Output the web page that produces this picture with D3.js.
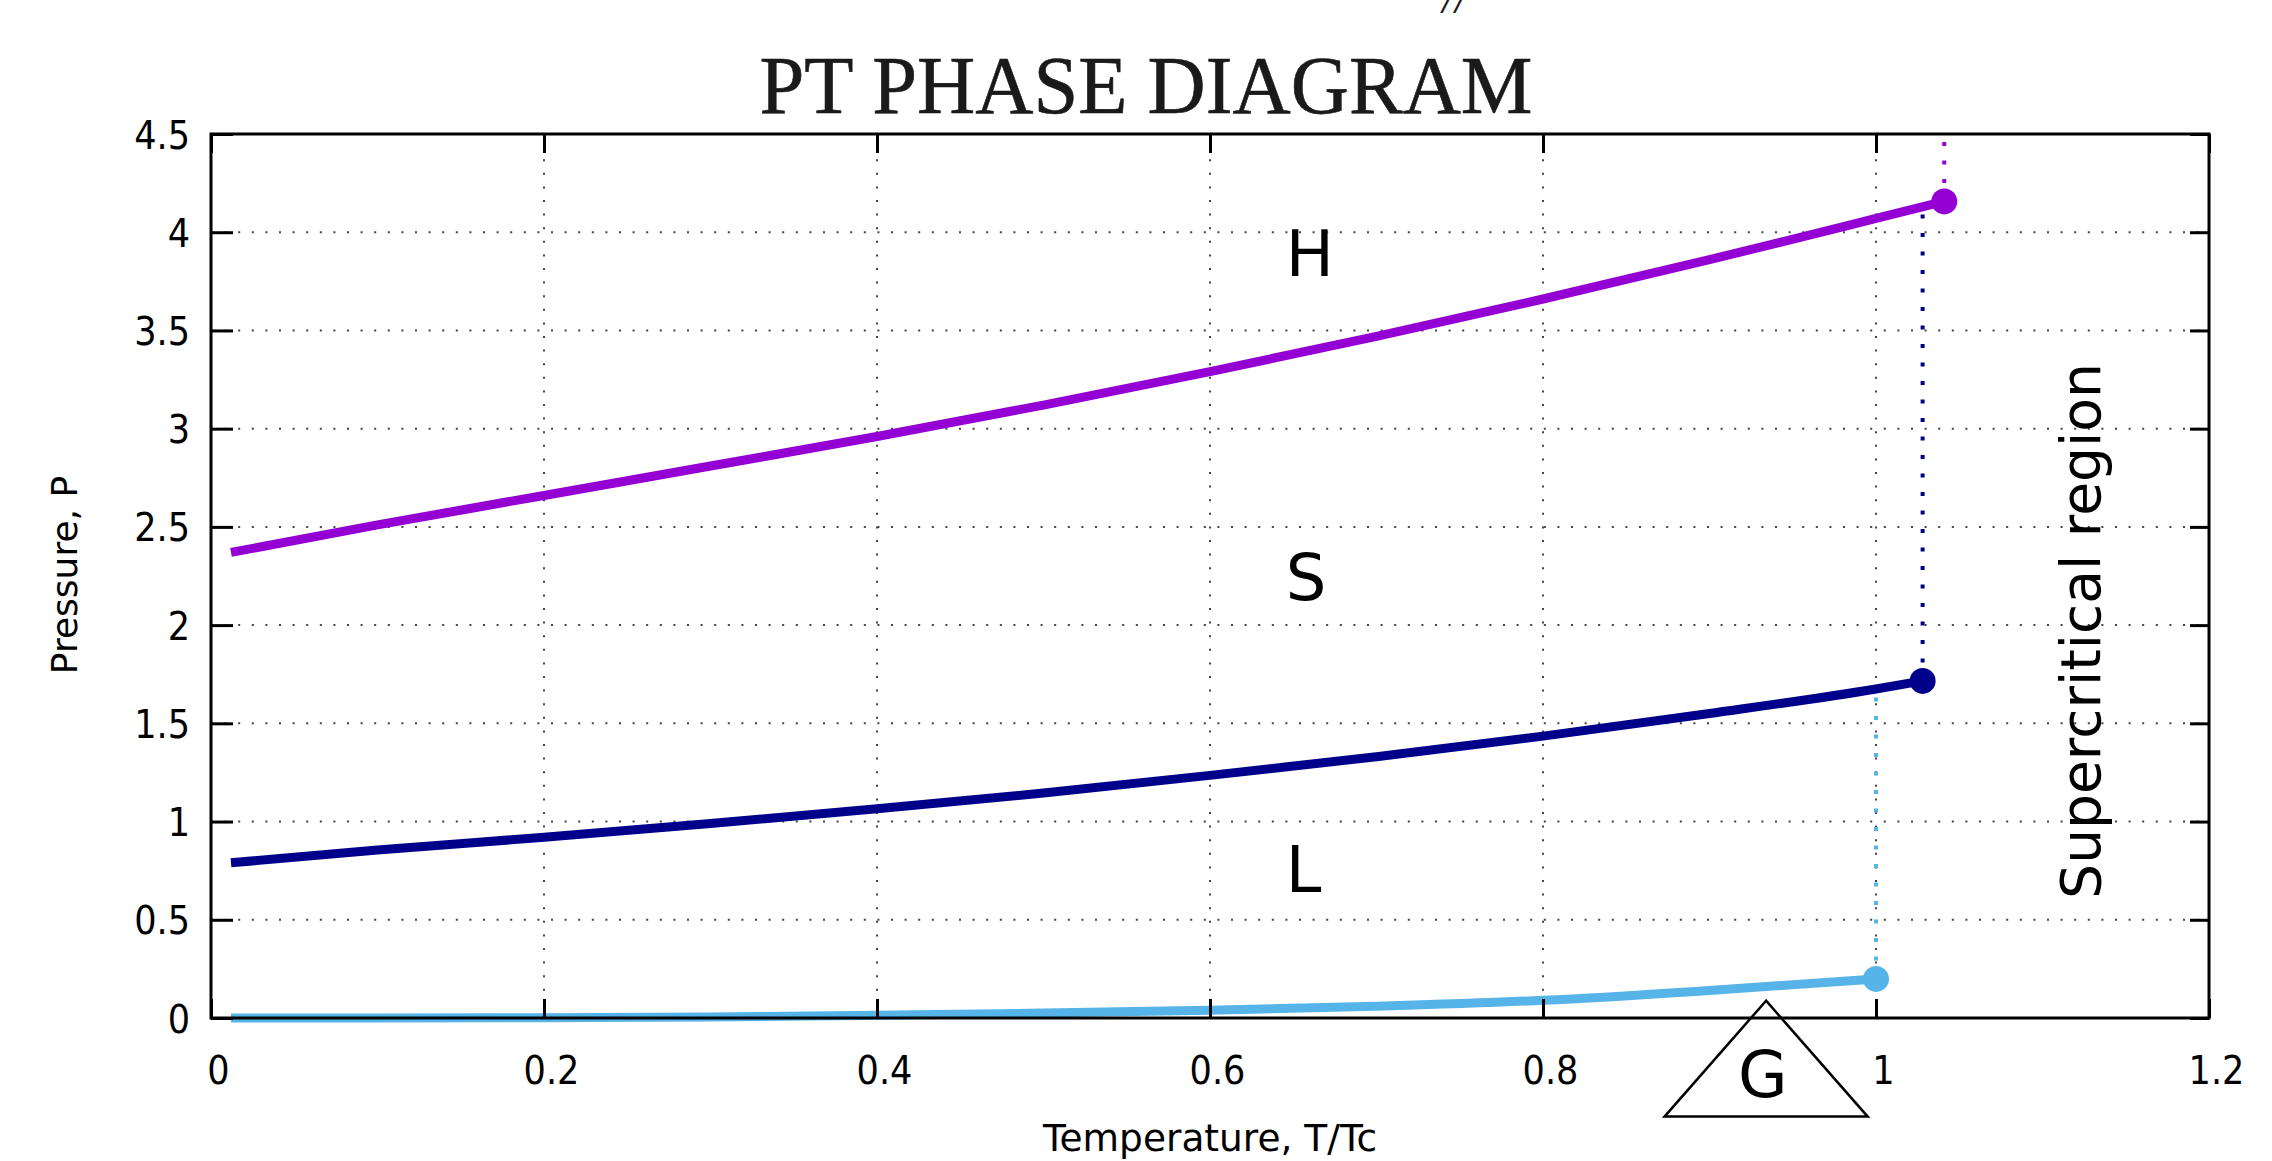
<!DOCTYPE html>
<html>
<head>
<meta charset="utf-8">
<script src="https://cdnjs.cloudflare.com/ajax/libs/d3/7.8.5/d3.min.js"></script>
<style>
  html, body { margin: 0; padding: 0; background: #fff; }
  svg { display: block; }
</style>
</head>
<body>
<div id="chart"></div>
<script>
// axis ticks
const tempTicks = [0, 0.2, 0.4, 0.6, 0.8, 1, 1.2];
const presTicks = [0, 0.5, 1, 1.5, 2, 2.5, 3, 3.5, 4, 4.5];

// upper boundary (purple)
const upperT = [0.012, 0.1, 0.2, 0.3, 0.4, 0.5, 0.6, 0.7, 0.8, 0.9, 1.0, 1.041];
const upperP = [2.37, 2.51, 2.66, 2.81, 2.96, 3.12, 3.29, 3.47, 3.66, 3.86, 4.07, 4.157];

// middle boundary (dark blue)
const middleT = [0.012, 0.1, 0.2, 0.3, 0.4, 0.5, 0.6, 0.7, 0.8, 0.9, 1.0, 1.028];
const middleP = [0.79, 0.855, 0.92, 0.99, 1.065, 1.145, 1.235, 1.33, 1.435, 1.55, 1.675, 1.716];

// lower boundary (light blue)
const lowerT = [0.012, 0.1, 0.2, 0.3, 0.4, 0.5, 0.6, 0.7, 0.8, 0.9, 1.0];
const lowerP = [0.0, 0.0, 0.001, 0.005, 0.014, 0.025, 0.04, 0.06, 0.09, 0.14, 0.199];

// dotted verticals from critical points: [T, P from, P to]
const upperDrop = [1.041, 4.157, 4.5];
const middleDrop = [1.028, 1.716, 4.115];
const lowerDrop = [1.0, 0.199, 1.66];

// region labels
const regionNames = ["H", "S", "L"];
const regionT = [0.6455, 0.6455, 0.6455];
const regionP = [3.775, 2.13, 0.643];

// the G triangle below the axis
const triT = [0.934, 0.873, 0.995];
const triP = [0.088, -0.502, -0.502];

const W = 2272, H = 1161;
const svg = d3.select("#chart").append("svg")
  .attr("width", W).attr("height", H);

const x = d3.scaleLinear().domain([0, 1.2]).range([211, 2209]);
const y = d3.scaleLinear().domain([0, 4.5]).range([1018, 134]);

const tickFont = "'DejaVu Sans Condensed', 'DejaVu Sans', sans-serif";
const labelFont = "'DejaVu Sans', sans-serif";

// grid
const gridX = tempTicks.slice(1, -1);
const gridY = presTicks.slice(1, -1);
svg.append("g").selectAll("line").data(gridX).enter().append("line")
  .attr("x1", d => x(d)).attr("x2", d => x(d))
  .attr("y1", y(0)).attr("y2", y(4.5))
  .attr("stroke", "#444").attr("stroke-width", 2)
  .attr("stroke-dasharray", "2 11.6");
svg.append("g").selectAll("line").data(gridY).enter().append("line")
  .attr("y1", d => y(d)).attr("y2", d => y(d))
  .attr("x1", x(0)).attr("x2", x(1.2))
  .attr("stroke", "#444").attr("stroke-width", 2)
  .attr("stroke-dasharray", "2 11.6");

// dotted verticals
function drop(d, color) {
  svg.append("line")
    .attr("x1", x(d[0])).attr("x2", x(d[0]))
    .attr("y1", y(d[1])).attr("y2", y(d[2]))
    .attr("stroke", color).attr("stroke-width", 4)
    .attr("stroke-dasharray", "4 14.5");
}
drop(upperDrop, "#9400D3");
drop(middleDrop, "#00008B");
drop(lowerDrop, "#56B4E9");

// curves
const line = d3.line()
  .x(d => x(d[0])).y(d => y(d[1]))
  .curve(d3.curveMonotoneX);

function curve(ts, ps, color) {
  const pts = ts.map((t, i) => [t, ps[i]]);
  svg.append("path")
    .attr("d", line(pts))
    .attr("fill", "none")
    .attr("stroke", color)
    .attr("stroke-width", 9);
  const last = pts[pts.length - 1];
  svg.append("circle")
    .attr("cx", x(last[0])).attr("cy", y(last[1]))
    .attr("r", 13).attr("fill", color);
}
curve(upperT, upperP, "#9400D3");
curve(middleT, middleP, "#00008B");
curve(lowerT, lowerP, "#56B4E9");

// axes with inward ticks
const xAxis = svg.append("g")
  .attr("transform", "translate(0," + y(0) + ")")
  .call(d3.axisBottom(x).tickValues(tempTicks).tickSizeInner(-19).tickSizeOuter(0)
    .tickPadding(38).tickFormat(d3.format("")));
xAxis.selectAll("text").attr("dx", 7);

const yAxis = svg.append("g")
  .attr("transform", "translate(" + x(0) + ",0)")
  .call(d3.axisLeft(y).tickValues(presTicks).tickSizeInner(-22).tickSizeOuter(0)
    .tickPadding(21).tickFormat(d3.format("")));
yAxis.selectAll("text").attr("dy", "0.36em");

svg.append("g")
  .attr("transform", "translate(0," + y(4.5) + ")")
  .call(d3.axisTop(x).tickValues(tempTicks).tickSizeInner(-19).tickSizeOuter(0).tickFormat(""));
svg.append("g")
  .attr("transform", "translate(" + x(1.2) + ",0)")
  .call(d3.axisRight(y).tickValues(presTicks).tickSizeInner(-19).tickSizeOuter(0).tickFormat(""));

svg.selectAll(".domain").remove();
svg.selectAll(".tick line").attr("stroke", "#000").attr("stroke-width", 3);
svg.selectAll(".tick text")
  .attr("font-family", tickFont).attr("font-size", 39).attr("fill", "#000");

// frame
svg.append("rect")
  .attr("x", x(0)).attr("y", y(4.5))
  .attr("width", x(1.2) - x(0)).attr("height", y(0) - y(4.5))
  .attr("fill", "none").attr("stroke", "#000").attr("stroke-width", 3);

// region labels
svg.append("g").selectAll("text").data(regionNames).enter().append("text")
  .attr("x", (d, i) => x(regionT[i])).attr("y", (d, i) => y(regionP[i]))
  .attr("font-family", labelFont).attr("font-size", 64)
  .text(d => d);

// G triangle
const tri = triT.map((t, i) => [x(t), y(triP[i])]);
svg.append("path")
  .attr("d", "M" + tri.map(p => p.join(",")).join("L") + "Z")
  .attr("fill", "none").attr("stroke", "#000").attr("stroke-width", 2.5);
svg.append("text")
  .attr("x", x(0.932)).attr("y", y(-0.401))
  .attr("text-anchor", "middle")
  .attr("font-family", labelFont).attr("font-size", 64)
  .text("G");

// supercritical label
svg.append("text")
  .attr("transform", "translate(" + x(1.1345) + "," + y(1.97) + ") rotate(-90)")
  .attr("text-anchor", "middle")
  .attr("font-family", labelFont).attr("font-size", 55)
  .text("Supercritical region");

// axis titles
svg.append("text")
  .attr("x", (x(0) + x(1.2)) / 2).attr("y", 1151)
  .attr("text-anchor", "middle")
  .attr("font-family", labelFont).attr("font-size", 37.5)
  .text("Temperature, T/Tc");

svg.append("text")
  .attr("transform", "translate(77,575) rotate(-90)")
  .attr("text-anchor", "middle")
  .attr("font-family", labelFont).attr("font-size", 36)
  .text("Pressure, P");

// title
svg.append("text")
  .attr("x", 1146).attr("y", 113)
  .attr("text-anchor", "middle")
  .attr("font-family", "'Liberation Serif', serif").attr("font-size", 83)
  .attr("textLength", 773).attr("lengthAdjust", "spacingAndGlyphs")
  .attr("fill", "#1a1a1a").attr("stroke", "#1a1a1a").attr("stroke-width", 0.6)
  .text("PT PHASE DIAGRAM");

// clipped text fragment at the very top
svg.append("text")
  .attr("x", 1455).attr("y", 13)
  .attr("text-anchor", "middle")
  .attr("font-family", "'Liberation Serif', serif").attr("font-size", 46)
  .attr("font-style", "italic").attr("fill", "#1a1a1a")
  .text("//");
</script>
</body>
</html>
